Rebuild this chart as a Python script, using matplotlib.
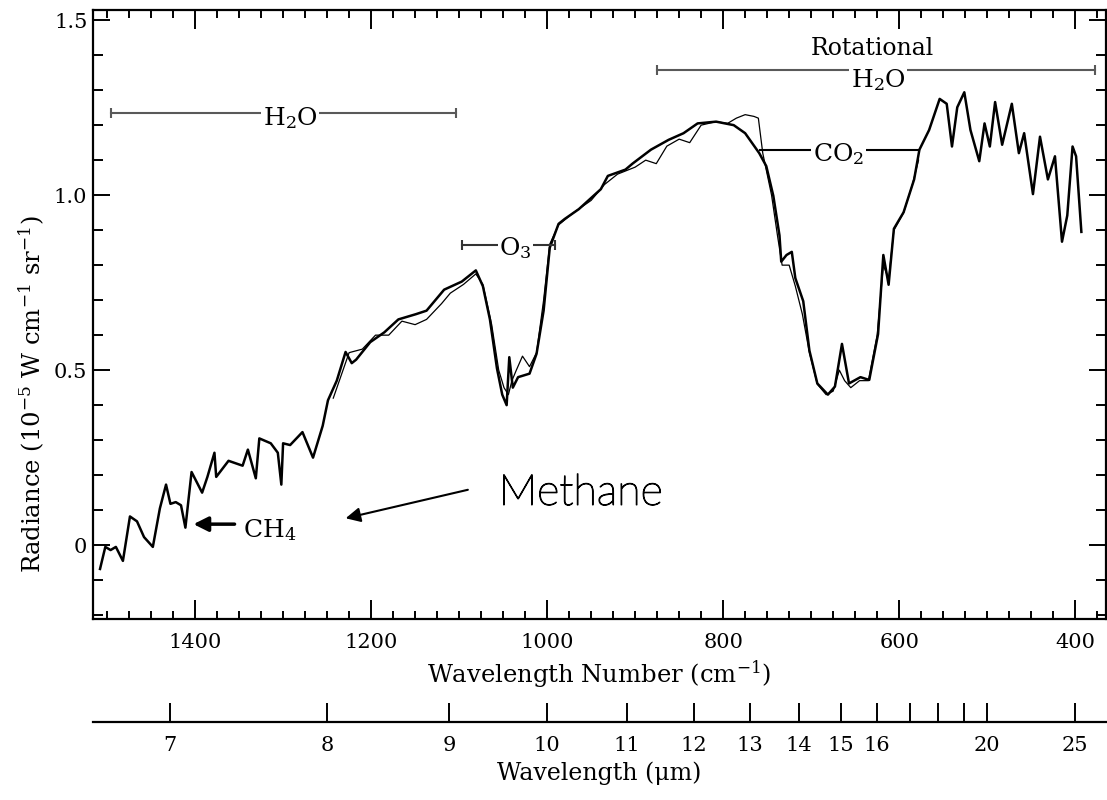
import numpy as np
import matplotlib
matplotlib.use('Agg')
import matplotlib.pyplot as plt
import matplotlib.patheffects as pe
from matplotlib.ticker import MultipleLocator

# measured spectrum (thick line): wavenumber [cm-1], radiance [1e-5 W cm-1 sr-1]
obs_wn = [1508, 1502, 1496, 1490, 1482, 1474, 1466, 1458, 1448, 1440, 1433, 1428,
          1422, 1416, 1411, 1404, 1392, 1386, 1378, 1376, 1362, 1346, 1340, 1331,
          1327, 1314, 1306, 1302, 1300, 1292, 1278, 1266, 1255, 1249, 1239, 1229,
          1222, 1217, 1201, 1185, 1169, 1149, 1137, 1117, 1097, 1081, 1073, 1065,
          1057, 1051, 1046, 1043, 1039, 1033, 1020, 1012, 1004, 997, 987, 980,
          964, 939, 931, 911, 903, 882, 862, 845, 829, 808, 788, 775,
          759, 751, 743, 736, 734, 728, 722, 718, 709, 702, 693, 681,
          673, 665, 657, 644, 634, 624, 618, 612, 606, 595, 583, 577,
          566, 554, 546, 540, 534, 526, 519, 509, 503, 497, 491, 483,
          472, 464, 458, 448, 440, 431, 423, 415, 409, 403, 399, 393]
obs_rad = [-0.068, -0.005, -0.014, -0.005, -0.045, 0.082, 0.068, 0.023, -0.005, 0.105, 0.173, 0.118,
           0.123, 0.114, 0.050, 0.209, 0.150, 0.195, 0.264, 0.195, 0.241, 0.227, 0.273, 0.191,
           0.305, 0.291, 0.264, 0.173, 0.291, 0.286, 0.323, 0.250, 0.341, 0.414, 0.470, 0.552,
           0.520, 0.530, 0.580, 0.608, 0.645, 0.660, 0.670, 0.730, 0.753, 0.785, 0.740, 0.645,
           0.505, 0.430, 0.400, 0.537, 0.450, 0.480, 0.490, 0.547, 0.670, 0.850, 0.918, 0.932,
           0.960, 1.017, 1.055, 1.073, 1.090, 1.130, 1.158, 1.177, 1.205, 1.210, 1.200, 1.177,
           1.120, 1.083, 0.998, 0.885, 0.810, 0.829, 0.838, 0.763, 0.697, 0.556, 0.462, 0.430,
           0.453, 0.575, 0.462, 0.480, 0.472, 0.603, 0.829, 0.744, 0.904, 0.951, 1.045, 1.130,
           1.186, 1.275, 1.261, 1.139, 1.251, 1.294, 1.186, 1.097, 1.205, 1.139, 1.266, 1.144,
           1.261, 1.120, 1.177, 1.003, 1.167, 1.045, 1.111, 0.867, 0.942, 1.139, 1.111, 0.895]

# model spectrum (thin line)
mod_wn = [1243, 1225, 1210, 1195, 1180, 1165, 1150, 1137, 1120, 1110, 1095, 1081,
          1073, 1063, 1055, 1049, 1044, 1040, 1035, 1028, 1020, 1012, 1004, 997,
          987, 970, 950, 935, 920, 900, 888, 876, 864, 850, 838, 825,
          808, 795, 785, 775, 765, 760, 755, 745, 738, 733, 725, 718,
          710, 702, 693, 683, 675, 668, 662, 655, 645, 635, 625, 618,
          612, 606, 595, 585, 578]
mod_rad = [0.420, 0.550, 0.560, 0.600, 0.600, 0.640, 0.630, 0.645, 0.690, 0.720, 0.745, 0.775,
           0.745, 0.630, 0.500, 0.450, 0.430, 0.470, 0.500, 0.540, 0.510, 0.550, 0.700, 0.860,
           0.915, 0.950, 0.985, 1.030, 1.060, 1.080, 1.100, 1.090, 1.140, 1.160, 1.150, 1.200,
           1.210, 1.205, 1.220, 1.230, 1.225, 1.220, 1.120, 1.000, 0.880, 0.800, 0.800, 0.740,
           0.660, 0.550, 0.460, 0.430, 0.440, 0.500, 0.470, 0.450, 0.470, 0.470, 0.600, 0.800,
           0.760, 0.900, 0.950, 1.030, 1.100]

# secondary axis ticks (wavelength in micrometres)
um_ticks = [7, 8, 9, 10, 11, 12, 13, 14, 15, 16, 17, 18, 19, 20, 25]
um_labels = ['7', '8', '9', '10', '11', '12', '13', '14', '15', '16', '', '', '', '20', '25']

plt.rcParams['font.family'] = ['DejaVu Serif']
plt.rcParams['mathtext.fontset'] = 'dejavuserif'


def wn_to_um(x):
    x = np.asarray(x, dtype=float)
    out = np.full_like(x, np.inf)
    np.divide(1e4, x, out=out, where=x != 0)
    return out


fig = plt.figure(figsize=(11.07, 8), dpi=100)
ax = fig.add_axes([0.084, 0.22625, 0.9151, 0.76125])

ax.plot(mod_wn, mod_rad, color='black', lw=0.9)
ax.plot(obs_wn, obs_rad, color='black', lw=1.8)

ax.set_xlim(1516, 365)
ax.set_ylim(-0.211, 1.529)

ax.xaxis.set_major_locator(MultipleLocator(200))
ax.xaxis.set_minor_locator(MultipleLocator(25))
ax.set_yticks([0, 0.5, 1.0, 1.5], ['0', '0.5', '1.0', '1.5'])
ax.yaxis.set_minor_locator(MultipleLocator(0.1))
ax.tick_params(axis='both', which='both', direction='in', top=True, right=True,
               width=1.4, labelsize=15)
ax.tick_params(axis='x', which='major', length=14, pad=10)
ax.tick_params(axis='x', which='minor', length=6)
ax.tick_params(axis='y', which='major', length=12, pad=4)
ax.tick_params(axis='y', which='minor', length=7)
for s in ax.spines.values():
    s.set_linewidth(1.6)

ax.set_xlabel('Wavelength Number (cm$^{-1}$)', fontsize=17.5, labelpad=5)
ax.set_ylabel('Radiance (10$^{-5}$ W cm$^{-1}$ sr$^{-1}$)', fontsize=17.5)
ax.yaxis.set_label_coords(-0.045, 0.37)

sec = ax.secondary_xaxis(-0.169, functions=(wn_to_um, wn_to_um))
sec.set_xticks(um_ticks, um_labels)
sec.tick_params(direction='in', length=14, width=1.4, labelsize=15, pad=10)
sec.spines['bottom'].set_linewidth(1.6)
sec.set_xlabel('Wavelength (μm)', fontsize=17, labelpad=5)

# band annotations
bar = dict(color='0.35', lw=1.5, marker='|', ms=7, mew=1.5)
ax.plot([1496, 1103], [1.234, 1.234], **bar)
ax.text(1292, 1.22, 'H$_2$O', ha='center', va='center', fontsize=18,
        bbox=dict(facecolor='white', edgecolor='none', pad=1))
ax.plot([875, 377], [1.357, 1.357], **bar)
ax.text(630, 1.42, 'Rotational', ha='center', va='center', fontsize=17)
ax.text(624, 1.33, 'H$_2$O', ha='center', va='center', fontsize=18,
        bbox=dict(facecolor='white', edgecolor='none', pad=1))
ax.plot([1097, 991], [0.857, 0.857], color='0.2', lw=1.5, marker='|', ms=7, mew=1.5)
ax.text(1036, 0.85, 'O$_3$', ha='center', va='center', fontsize=18,
        bbox=dict(facecolor='white', edgecolor='none', pad=1))
ax.plot([758, 578], [1.129, 1.129], color='black', lw=1.5)
ax.text(669, 1.118, 'CO$_2$', ha='center', va='center', fontsize=18,
        bbox=dict(facecolor='white', edgecolor='none', pad=1))

ax.annotate('', xy=(1405, 0.06), xytext=(1352, 0.06),
            arrowprops=dict(arrowstyle='-|>', color='black', lw=2.5, mutation_scale=22))
ax.text(1345, 0.043, 'CH$_4$', ha='left', va='center', fontsize=18)

ax.annotate('', xy=(1232, 0.075), xytext=(1087, 0.16),
            arrowprops=dict(arrowstyle='-|>', color='black', lw=1.5, mutation_scale=22))
ax.text(1055, 0.148, 'Methane', ha='left', va='center', fontsize=31, color='black',
        family=['Lato', 'DejaVu Sans'], fontweight='light',
        path_effects=[pe.withStroke(linewidth=0.9, foreground='black')])

fig.savefig('out.png', dpi=100)
